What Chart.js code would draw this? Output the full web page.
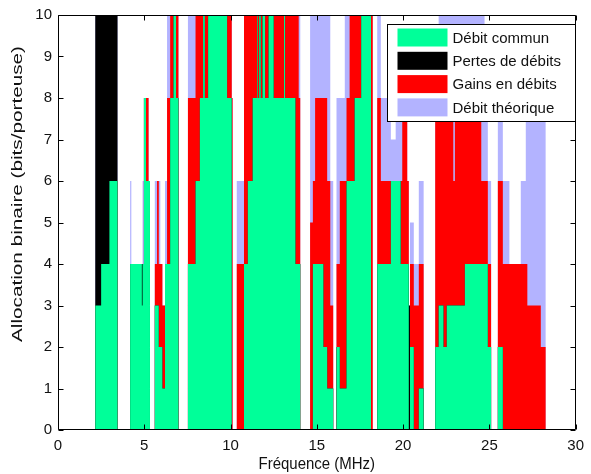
<!DOCTYPE html>
<html><head><meta charset="utf-8">
<script src="https://cdn.jsdelivr.net/npm/chart.js@4.4.1/dist/chart.umd.min.js"></script>
<style>html,body{margin:0;padding:0;background:#fff;overflow:hidden}canvas{display:block}</style>
</head><body>
<canvas id="c" width="591" height="474"></canvas>
<script>
// Segment start frequencies (MHz); each value holds until the next frequency
const freqMHz = [0,2.16,2.50,2.98,3.45,4.18,4.25,4.86,4.90,4.98,5.10,5.25,5.33,5.61,5.74,5.84,5.93,6.05,6.20,6.32,6.50,6.69,6.84,6.98,7.53,7.97,8.22,8.41,8.51,8.70,9.80,10.07,10.12,10.36,10.78,11.00,11.28,11.54,11.58,11.66,11.75,11.85,12.00,12.20,12.50,13.10,13.16,13.76,13.95,14.04,14.61,14.77,14.90,15.38,15.60,15.78,15.95,16.14,16.33,16.62,16.72,16.90,17.19,17.57,18.14,18.24,18.50,18.71,19.29,19.57,19.86,19.95,20.24,20.33,20.40,20.62,20.91,21.19,21.86,22.06,22.34,22.53,22.91,23.00,23.58,24.53,24.72,24.91,25.10,25.49,25.78,26.16,26.82,27.11,27.20,27.98,28.26,30];
const debitCommun   = [0,3,4,6,0,4,4,3,4,8,6,6,0,3,3,2,2,1,4,4,8,10,8,0,4,6,8,10,8,10,8,0,0,0,4,6,8,10,8,10,8,10,8,10,8,10,8,4,4,0,0,4,4,2,1,1,0,2,1,1,6,6,8,10,0,0,4,4,6,6,4,4,4,0,2,0,1,0,2,3,2,3,3,3,4,4,4,2,0,2,0,0,0,0,0,0,0,0];
const pertesDebits  = [0,10,10,10,0,4,4,4,4,8,6,6,0,3,3,2,2,1,4,4,8,10,8,0,4,6,8,10,8,10,8,0,0,0,4,6,8,10,8,10,8,10,8,10,8,10,8,4,4,0,0,4,4,2,1,1,0,2,1,1,6,6,8,10,0,0,4,4,6,6,4,4,4,3,2,0,1,0,2,3,2,3,3,3,4,4,4,2,0,2,0,0,0,0,0,0,0,0];
const gainsDebits   = [0,3,4,6,0,4,4,3,4,8,8,6,0,4,6,4,4,3,4,8,10,10,10,0,8,10,10,10,10,10,10,8,0,4,10,10,10,10,10,10,10,10,10,10,10,10,10,10,8,0,5,6,8,8,6,3,0,4,6,6,8,10,10,10,10,0,8,6,6,6,6,8,6,0,4,3,4,0,8,8,8,8,6,8,8,6,6,4,0,6,4,4,4,4,3,2,0,0];
const debitTheorique= [0,10,10,10,0,6,4,4,6,8,8,6,0,6,6,6,4,3,6,10,10,10,10,0,10,10,10,10,10,10,10,8,0,6,10,10,10,10,10,10,10,10,10,10,10,10,10,10,10,0,10,10,10,10,10,6,0,8,8,10,10,10,10,10,10,0,10,8,7,8,8,8,6,3,5,4,6,0,8,10,10,10,10,10,10,10,8,6,0,8,6,4,6,8,8,8,0,0];
const seriesLabels = ['Débit commun','Pertes de débits','Gains en débits','Débit théorique'];
const seriesColors = ['#00FF99','#000000','#FF0000','#B3B3FF'];
const xTickValues = [0,5,10,15,20,25,30];
const yTickValues = [0,1,2,3,4,5,6,7,8,9,10];
const xTitle = 'Fréquence (MHz)';
const yTitle = 'Allocation binaire (bits/porteuse)';

const seriesValues = [debitCommun, pertesDebits, gainsDebits, debitTheorique];
const datasets = seriesValues.map((vals, k) => ({
  label: seriesLabels[k],
  data: freqMHz.map((f, i) => ({x: f, y: vals[i]})),
  stepped: true,
  fill: 'origin',
  backgroundColor: seriesColors[k],
  borderColor: 'rgba(0,0,0,0)',
  borderWidth: 0,
  pointRadius: 0,
  tension: 0
}));

const FONT = "'Liberation Sans', Arial, Helvetica, sans-serif";

const framePlugin = {
  id: 'frame',
  afterDatasetsDraw(chart) {
    const {ctx, chartArea: a, scales} = chart;
    ctx.save();
    ctx.strokeStyle = '#000';
    ctx.lineWidth = 1;
    ctx.beginPath();
    const L = Math.round(a.left) + 0.5, R = Math.round(a.right) - 0.5;
    const T = Math.round(a.top) + 0.5, B = Math.round(a.bottom) - 0.5;
    ctx.rect(L, T, R - L, B - T);
    const tl = 5;
    xTickValues.forEach(v => {
      const px = Math.round(scales.x.getPixelForValue(v)) + 0.5;
      ctx.moveTo(px, B); ctx.lineTo(px, B - tl);
      ctx.moveTo(px, T); ctx.lineTo(px, T + tl);
    });
    yTickValues.forEach(v => {
      const py = Math.round(scales.y.getPixelForValue(v)) + 0.5;
      ctx.moveTo(L, py); ctx.lineTo(L + tl, py);
      ctx.moveTo(R, py); ctx.lineTo(R - tl, py);
    });
    ctx.stroke();
    ctx.restore();
  },
  afterDraw(chart) {
    const {ctx, chartArea: a} = chart;
    ctx.save();
    // axis titles
    ctx.fillStyle = '#111';
    ctx.font = '14px ' + FONT;
    ctx.textAlign = 'center';
    ctx.textBaseline = 'middle';
    ctx.save();
    ctx.translate((a.left + a.right) / 2, 465);
    ctx.scale(1.07, 1.15);
    ctx.fillText(xTitle, 0, 0);
    ctx.restore();
    ctx.save();
    ctx.translate(18, 194);
    ctx.rotate(-Math.PI / 2);
    ctx.scale(1.48, 1);
    ctx.font = '14px ' + FONT;
    ctx.fillText(yTitle, 0, 0);
    ctx.restore();
    // legend box
    const bx = Math.round(a.right) - 189 + 0.5, by = Math.round(a.top) + 9 + 0.5, bw = 188, bh = 97;
    ctx.fillStyle = '#fff';
    ctx.fillRect(bx, by, bw, bh);
    ctx.strokeStyle = '#000';
    ctx.lineWidth = 1;
    ctx.strokeRect(bx, by, bw, bh);
    ctx.font = '15px ' + FONT;
    ctx.textAlign = 'left';
    ctx.textBaseline = 'middle';
    chart.data.datasets.forEach((ds, i) => {
      const cy = by + 13 + i * 23.3;
      ctx.fillStyle = ds.backgroundColor;
      ctx.fillRect(bx + 10, cy - 9, 50, 18);
      ctx.fillStyle = '#111';
      ctx.fillText(ds.label, bx + 65, cy + 1);
    });
    ctx.restore();
  }
};

new Chart(document.getElementById('c'), {
  type: 'line',
  data: {datasets},
  options: {
    responsive: false,
    devicePixelRatio: 1,
    animation: false,
    events: [],
    layout: {padding: {top: 15, right: 9, left: 0, bottom: 0}},
    plugins: {legend: {display: false}, tooltip: {enabled: false}},
    scales: {
      x: {
        type: 'linear', min: 0, max: 30, bounds: 'ticks',
        afterFit: s => { s.height = 44; },
        afterBuildTicks: s => { s.ticks = xTickValues.map(v => ({value: v})); },
        grid: {display: false, drawTicks: false},
        border: {display: false},
        ticks: {padding: 7, color: '#111', font: {family: FONT, size: 15}, maxRotation: 0, autoSkip: false}
      },
      y: {
        type: 'linear', min: 0, max: 10,
        afterFit: s => { s.width = 58; },
        afterBuildTicks: s => { s.ticks = yTickValues.map(v => ({value: v})); },
        grid: {display: false, drawTicks: false},
        border: {display: false},
        ticks: {padding: 6, color: '#111', font: {family: FONT, size: 15}, autoSkip: false}
      }
    }
  },
  plugins: [framePlugin]
});
</script>
</body></html>
